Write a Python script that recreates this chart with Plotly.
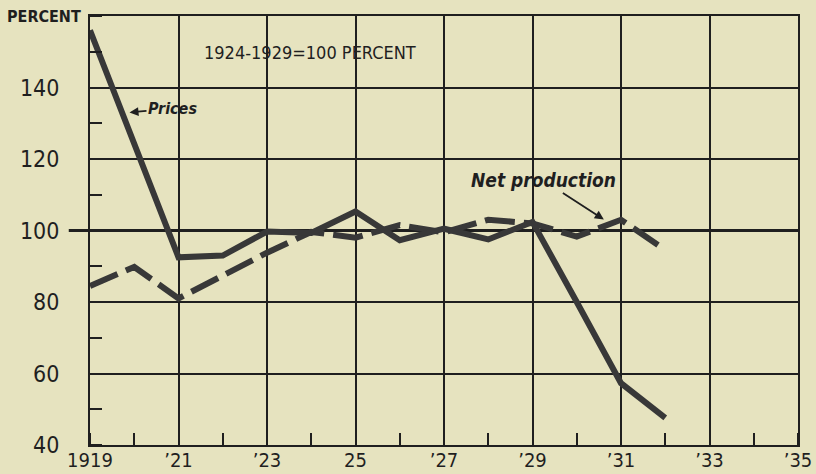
import plotly.graph_objects as go

years = [1919, 1920, 1921, 1922, 1923, 1924, 1925, 1926, 1927, 1928, 1929, 1930, 1931, 1932]
prices = [156, 124, 92.5, 93, 99.7, 99.3, 105.3, 97.3, 100.5, 97.5, 102.4, 80, 57.3, 47.6]
net_production = [84.5, 89.8, 81, 87.5, 93.8, 99.6, 98, 101.5, 99.5, 103, 102, 98.3, 103, 94.6]

x_tickvals = [1919, 1921, 1923, 1925, 1927, 1929, 1931, 1933, 1935]
x_ticktext = ["1919", "’21", "’23", "25", "’27", "’29", "’31", "’33", "’35"]
y_tickvals = [40, 60, 80, 100, 120, 140]
y_ticktext = ["40", "60", "80", "100", "120", "140"]

BG = "#e6e3bf"
INK = "#1f1f1f"
LINE = "#383838"
FONT = "DejaVu Sans Condensed, DejaVu Sans, sans-serif"

fig = go.Figure()
fig.add_trace(go.Scatter(x=years, y=net_production, mode="lines",
                         line=dict(color=LINE, width=6, dash="30px,9px"),
                         name="Net production", hoverinfo="skip"))
fig.add_trace(go.Scatter(x=years, y=prices, mode="lines",
                         line=dict(color=LINE, width=6),
                         name="Prices", hoverinfo="skip"))

# heavy base line at 100 percent
fig.add_shape(type="line", xref="paper", yref="y", x0=-0.03, x1=1, y0=100, y1=100,
              line=dict(color=INK, width=2.8), layer="below")

fig.add_annotation(text="PERCENT", xref="paper", yref="paper", x=-0.12, y=1.0,
                   xanchor="left", yanchor="middle", showarrow=False,
                   font=dict(family=FONT, size=16, color=INK, weight="bold"))
fig.add_annotation(text="1924-1929=100 PERCENT", xref="paper", yref="paper",
                   x=(202 - 90) / 708, y=(445 - 52) / 429, xanchor="left", yanchor="middle",
                   showarrow=False, font=dict(family=FONT, size=18, color=INK))
fig.add_annotation(text="<i><b>Prices</b></i>", x=1919.87, y=133, ax=44, ay=-4,
                   showarrow=True, arrowhead=2, arrowsize=1, arrowwidth=1.8, arrowcolor=INK,
                   standoff=1, font=dict(family=FONT, size=16, color=INK))
fig.add_annotation(text="<i><b>Net production</b></i>", x=1930.65, y=102.8, ax=-62, ay=-40,
                   showarrow=True, arrowhead=2, arrowsize=1, arrowwidth=1.8, arrowcolor=INK,
                   standoff=2, font=dict(family=FONT, size=19, color=INK))

fig.update_layout(
    width=816, height=474,
    margin=dict(l=90, r=18, t=16, b=29, autoexpand=False),
    paper_bgcolor=BG, plot_bgcolor=BG,
    showlegend=False,
    font=dict(family=FONT, color=INK),
)
fig.update_xaxes(range=[1919, 1935], tickvals=x_tickvals, ticktext=x_ticktext,
                 showgrid=True, gridcolor=INK, gridwidth=1.5,
                 showline=True, linecolor=INK, linewidth=2, mirror=True,
                 ticks="", ticklabelstandoff=-4, automargin=False,
                 tickfont=dict(family=FONT, size=20, color=INK),
                 minor=dict(dtick=1, tick0=1919, ticks="inside", ticklen=12,
                            tickcolor=INK, tickwidth=1.5, showgrid=False),
                 zeroline=False)
fig.update_yaxes(range=[40, 160], tickvals=y_tickvals, ticktext=y_ticktext,
                 showgrid=True, gridcolor=INK, gridwidth=1.5,
                 showline=True, linecolor=INK, linewidth=2, mirror=True,
                 ticks="", ticklabelstandoff=24, automargin=False,
                 tickfont=dict(family=FONT, size=23, color=INK),
                 minor=dict(dtick=10, tick0=40, ticks="inside", ticklen=12,
                            tickcolor=INK, tickwidth=1.5, showgrid=False),
                 zeroline=False)

fig.write_html("out.html", config={"displayModeBar": False},
               post_script="document.body.style.margin='0';document.body.style.background='" + BG + "';")
